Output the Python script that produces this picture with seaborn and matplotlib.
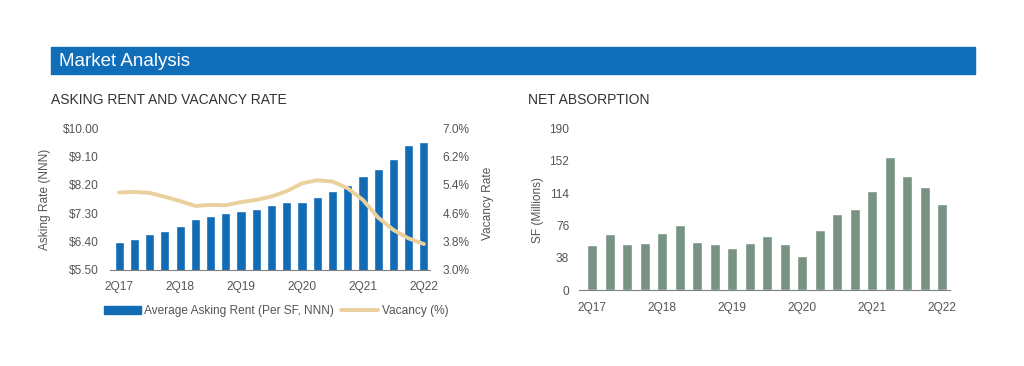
import numpy as np
import pandas as pd
import matplotlib as mpl
from matplotlib import pyplot as plt
from matplotlib.patches import Patch, Rectangle
from matplotlib.lines import Line2D
import seaborn as sns

sns.set_style("white")
plt.rcParams['font.family'] = ['Liberation Sans', 'DejaVu Sans']

quarters = ['2Q17', '3Q17', '4Q17', '1Q18', '2Q18', '3Q18', '4Q18', '1Q19', '2Q19', '3Q19', '4Q19',
            '1Q20', '2Q20', '3Q20', '4Q20', '1Q21', '2Q21', '3Q21', '4Q21', '1Q22', '2Q22']
asking_rent = [6.39, 6.48, 6.63, 6.72, 6.89, 7.10, 7.20, 7.29, 7.37, 7.44, 7.54,
               7.64, 7.64, 7.80, 8.00, 8.18, 8.47, 8.71, 9.03, 9.46, 9.55]
vacancy = [5.18, 5.20, 5.17, 5.06, 4.94, 4.80, 4.83, 4.82, 4.91, 4.97, 5.07,
           5.22, 5.44, 5.53, 5.49, 5.30, 4.97, 4.47, 4.12, 3.88, 3.72]
absorption = [53.6, 65.8, 54.8, 55.9, 67.0, 76.7, 57.1, 54.4, 50.1, 55.9, 64.2,
              54.8, 40.0, 70.5, 89.7, 95.5, 116.7, 156.6, 133.5, 121.7, 101.1]
shown_quarters = ['2Q17', '2Q18', '2Q19', '2Q20', '2Q21', '2Q22']

rent_ticks = [5.50, 6.40, 7.30, 8.20, 9.10, 10.00]
vac_ticks = [3.0, 3.8, 4.6, 5.4, 6.2, 7.0]
abs_ticks = [0, 38, 76, 114, 152, 190]

BLUE = '#116bb5'
SAND = '#e9d09c'
GREEN = '#789384'
TXT = '#555555'

df = pd.DataFrame({'quarter': quarters, 'rent': asking_rent, 'vacancy': vacancy,
                   'absorption': absorption, 'pos': np.arange(len(quarters))})

fig = plt.figure(figsize=(10.24, 3.66), dpi=100)

# header band
fig.patches.append(Rectangle((51 / 1024, 1 - 74 / 366), 924 / 1024, 27 / 366,
                             transform=fig.transFigure, color='#106db8', zorder=0))
fig.text(59 / 1024, 1 - 61 / 366, 'Market Analysis', color='white', fontsize=13.5,
         va='center', ha='left')
fig.text(51 / 1024, 1 - 100 / 366, 'ASKING RENT AND VACANCY RATE', color='#333333',
         fontsize=10, va='center', ha='left')
fig.text(528 / 1024, 1 - 100 / 366, 'NET ABSORPTION', color='#333333',
         fontsize=10, va='center', ha='left')

fs = 8.6

# ---- asking rent / vacancy
ax = fig.add_axes([110 / 1024, 1 - 269.5 / 366, 320 / 1024, 141.2 / 366])
sns.barplot(data=df, x='quarter', y='rent', color=BLUE, width=0.6, saturation=1, ax=ax)
ax.set_ylim(5.5, 10.0)
ax.set_xlim(-0.6, 20.4)
ax.set_yticks(rent_ticks)
ax.set_yticklabels(['${:.2f}'.format(t) for t in rent_ticks])
ax.set_xticks([quarters.index(q) for q in shown_quarters])
ax.set_xticklabels(shown_quarters)
ax.set_xlabel('')
ax.set_ylabel('Asking Rate (NNN)', fontsize=fs, color=TXT)
ax.yaxis.set_label_coords(-0.184, 0.5)
ax.tick_params(axis='y', length=0, pad=8, labelsize=fs, labelcolor=TXT)
ax.tick_params(axis='x', length=0, pad=8.5, labelsize=fs, labelcolor=TXT)
for s in ['top', 'left', 'right']:
    ax.spines[s].set_visible(False)
ax.spines['bottom'].set_color('#808080')
ax.spines['bottom'].set_linewidth(0.8)

ax2 = ax.twinx()
sns.lineplot(data=df, x='pos', y='vacancy', color=SAND, linewidth=2.8, ax=ax2)
ax2.set_ylim(3.0, 7.0)
ax2.set_yticks(vac_ticks)
ax2.set_yticklabels(['{:.1f}%'.format(t) for t in vac_ticks])
ax2.set_ylabel('Vacancy Rate', fontsize=fs, color=TXT)
ax2.yaxis.set_label_coords(1.164, 0.47)
ax2.tick_params(axis='y', length=0, pad=9, labelsize=fs, labelcolor=TXT)
for s in ['top', 'left', 'right', 'bottom']:
    ax2.spines[s].set_visible(False)

handles = [Patch(color=BLUE), Line2D([], [], color=SAND, linewidth=2.8)]
fig.legend(handles, ['Average Asking Rent (Per SF, NNN)', 'Vacancy (%)'],
           loc='center', bbox_to_anchor=(276 / 1024, 1 - 311 / 366), ncol=2,
           frameon=False, fontsize=fs, handlelength=3.1, handletextpad=0.3,
           columnspacing=0.6, labelcolor=TXT)

# ---- net absorption
bx = fig.add_axes([579 / 1024, 1 - 290.3 / 366, 371 / 1024, 162 / 366])
sns.barplot(data=df, x='quarter', y='absorption', color=GREEN, width=0.58, saturation=1, ax=bx)
bx.set_ylim(0, 190)
bx.set_xlim(-0.75, 20.45)
bx.set_yticks(abs_ticks)
bx.set_xticks([quarters.index(q) for q in shown_quarters])
bx.set_xticklabels(shown_quarters)
bx.set_xlabel('')
bx.set_ylabel('SF (Millions)', fontsize=fs, color=TXT)
bx.yaxis.set_label_coords(-0.094, 0.496)
bx.tick_params(axis='y', length=0, pad=7, labelsize=fs, labelcolor=TXT)
bx.tick_params(axis='x', length=0, pad=8.5, labelsize=fs, labelcolor=TXT)
for s in ['top', 'left', 'right']:
    bx.spines[s].set_visible(False)
bx.spines['bottom'].set_color('#808080')
bx.spines['bottom'].set_linewidth(0.8)

fig.savefig('out.png', dpi=100)
